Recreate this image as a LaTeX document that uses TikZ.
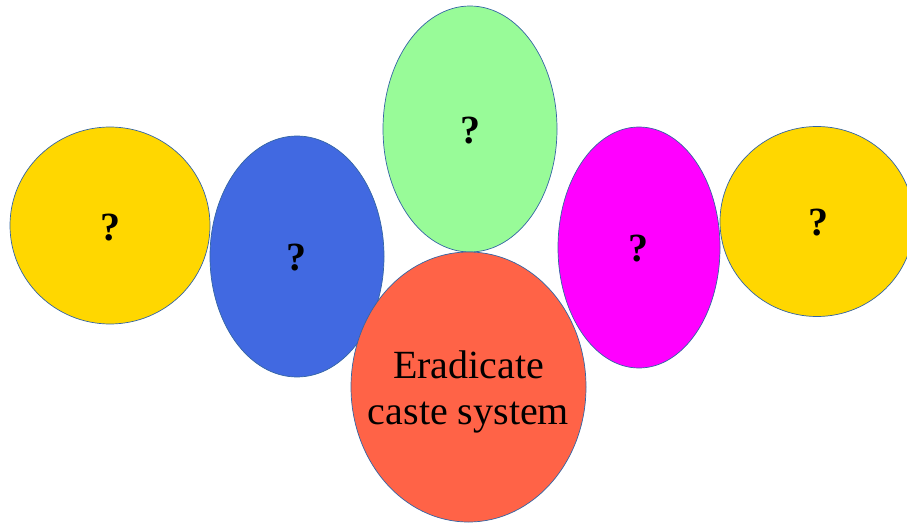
\documentclass[tikz,border=0pt]{standalone}
\usepackage{fontspec}
\setmainfont{Liberation Serif}
\usetikzlibrary{shapes.geometric}
\definecolor{rimblue}{HTML}{3465A4}
\definecolor{goldfill}{HTML}{FFD700}
\definecolor{bluefill}{HTML}{4169E1}
\definecolor{greenfill}{HTML}{98FB98}
\definecolor{redfill}{HTML}{FF6347}
\definecolor{pinkfill}{HTML}{FF00FF}
\begin{document}
\begin{tikzpicture}[x=1pt,y=-1pt,
    bubble/.style={ellipse,draw=rimblue,line width=0.7pt,inner sep=0pt},
    ask/.style={font=\fontsize{40}{44}\selectfont\bfseries}]
    \useasboundingbox (0,0) rectangle (907,524);
    \clip (0,0) rectangle (907,524);

    \coordinate (y1) at (110, 225.5);
    \coordinate (b1) at (297, 256.5);
    \coordinate (g1) at (470, 129);
    \coordinate (r1) at (468.5, 387);
    \coordinate (m1) at (639, 247.5);
    \coordinate (y2) at (817, 221.5);

    \node [bubble,fill=goldfill,minimum width=200pt,minimum height=197pt]
    (gold1) at (y1) {};
    \node [bubble,fill=bluefill,minimum width=174pt,minimum height=241pt]
    (blue) at (b1) {};
    \node [bubble,fill=greenfill,minimum width=174pt,minimum height=246pt]
    (green) at (g1) {};
    \node [bubble,fill=redfill,minimum width=235pt,minimum height=270pt]
    (red) at (r1) {};
    \node [bubble,fill=pinkfill,minimum width=162pt,minimum height=241pt]
    (pink) at (m1) {};
    \node [bubble,fill=goldfill,minimum width=194pt,minimum height=190pt]
    (gold2) at (y2) {};

    \node [ask] (q1) at (110, 228) {?};
    \node [ask] (q2) at (296, 258) {?};
    \node [ask] (q3) at (470, 131) {?};
    \node [ask] (q4) at (638, 249) {?};
    \node [ask] (q5) at (818, 223) {?};

    \node [align=center,font=\fontsize{40}{46}\selectfont]
    (goal) at (468.5, 392) {Eradicate\\caste system};
  \end{tikzpicture}
\end{document}
